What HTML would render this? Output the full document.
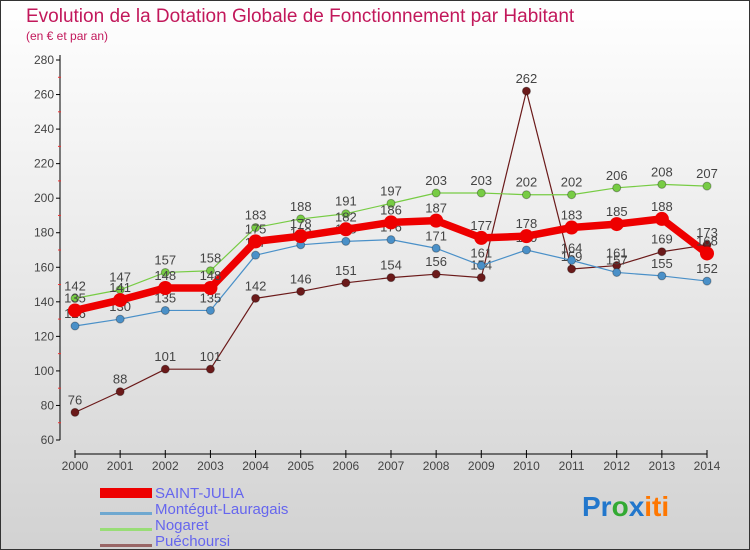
<!DOCTYPE html>
<html><head><meta charset="utf-8"><style>
body{margin:0;}
svg{display:block;font-family:"Liberation Sans",sans-serif;}
</style></head><body>
<svg id="c" width="750" height="550" xmlns="http://www.w3.org/2000/svg">
<defs><linearGradient id="bg" x1="0" y1="0" x2="0" y2="1"><stop offset="0" stop-color="#ffffff"/><stop offset="1" stop-color="#d2d2d2"/></linearGradient></defs>
<rect x="0.5" y="0.5" width="749" height="549" fill="url(#bg)" stroke="#333"/>
<text x="26" y="22" font-size="19" fill="#c2185b">Evolution de la Dotation Globale de Fonctionnement par Habitant</text>
<text x="26" y="40" font-size="12" fill="#c2185b">(en € et par an)</text>
<g id="axes"></g><g id="series"></g>
<g font-size="15" fill="#6666ee">
<rect x="100" y="488" width="52" height="10" fill="#ee0000"/>
<text x="155" y="498">SAINT-JULIA</text>
<rect x="100" y="512" width="52" height="3" fill="#6fa8d0"/>
<text x="155" y="514">Montégut-Lauragais</text>
<rect x="100" y="528" width="52" height="3" fill="#99dd77"/>
<text x="155" y="530">Nogaret</text>
<rect x="100" y="544" width="52" height="3" fill="#996666"/>
<text x="155" y="546">Puéchoursi</text>
</g>
<text x="582" y="516" font-size="28" font-weight="bold"><tspan fill="#2277cc">Pr</tspan><tspan fill="#33aa33">o</tspan><tspan fill="#2277cc">x</tspan><tspan fill="#ff7700">iti</tspan></text>
</svg>
<script>
const years=[2000,2001,2002,2003,2004,2005,2006,2007,2008,2009,2010,2011,2012,2013,2014];
const yTicks=[60,80,100,120,140,160,180,200,220,240,260,280];
const saintJulia=[135,141,148,148,175,178,182,186,187,177,178,183,185,188,168];
const montegut=[126,130,135,135,167,173,175,176,171,161,170,164,157,155,152];
const nogaret=[142,147,157,158,183,188,191,197,203,203,202,202,206,208,207];
const puechoursi=[76,88,101,101,142,146,151,154,156,154,262,159,161,169,173];
const NS="http://www.w3.org/2000/svg";
const xs=i=>75+i*(707-75)/(years.length-1);
const ys=v=>440-(v-60)*(380/220);
function mk(tag,attrs,parent){const e=document.createElementNS(NS,tag);for(const k in attrs)e.setAttribute(k,attrs[k]);parent.appendChild(e);return e;}
const ax=document.getElementById('axes');
let yl=mk('line',{x1:60,y1:55,x2:60,y2:440,stroke:'#000'},ax);


yTicks.forEach(t=>{
  const y=ys(t);
  mk('line',{x1:56,y1:y,x2:60,y2:y,stroke:'#000'},ax);
  const tx=mk('text',{x:54,y:y+4,'font-size':12,fill:'#444','text-anchor':'end'},ax);
  tx.textContent=t;
  
  
  if(t<280){mk('line',{x1:58,y1:y-380/22,x2:61,y2:y-380/22,stroke:'#e33'},ax);}
});
let xl=mk('line',{x1:75,y1:454,x2:707,y2:454,stroke:'#000'},ax);


years.forEach((yr,i)=>{
  mk('line',{x1:xs(i),y1:450,x2:xs(i),y2:458,stroke:'#000'},ax);
  const tx=mk('text',{x:xs(i),y:470,'font-size':12,fill:'#444','text-anchor':'middle'},ax);
  tx.textContent=yr;
  
  
});
const sg=document.getElementById('series');
function draw(data,color,w,r,name){
  const g=mk('g',{},sg);
  
  
  const p=mk('polyline',{points:data.map((v,i)=>xs(i)+','+ys(v)).join(' '),fill:'none',stroke:color,'stroke-width':w,'stroke-linejoin':'round'},g);
  
  
  data.forEach((v,i)=>{
    const c=mk('circle',{cx:xs(i),cy:ys(v),r:r,fill:color,stroke:w>3?'none':'rgba(0,0,0,0.3)'},g);
    
    
    const t=mk('text',{x:xs(i),y:ys(v)-8,'font-size':13,fill:'#444','text-anchor':'middle'},g);
    t.textContent=v;
    
    
  });
}
draw(puechoursi,'#6b1a1a',1.2,4,'puechoursi');
draw(montegut,'#4a90c8',1.2,4,'montegut');
draw(nogaret,'#77cc44',1.2,4,'nogaret');
draw(saintJulia,'#ee0000',7.5,7,'saint-julia');
</script>
</body></html>
